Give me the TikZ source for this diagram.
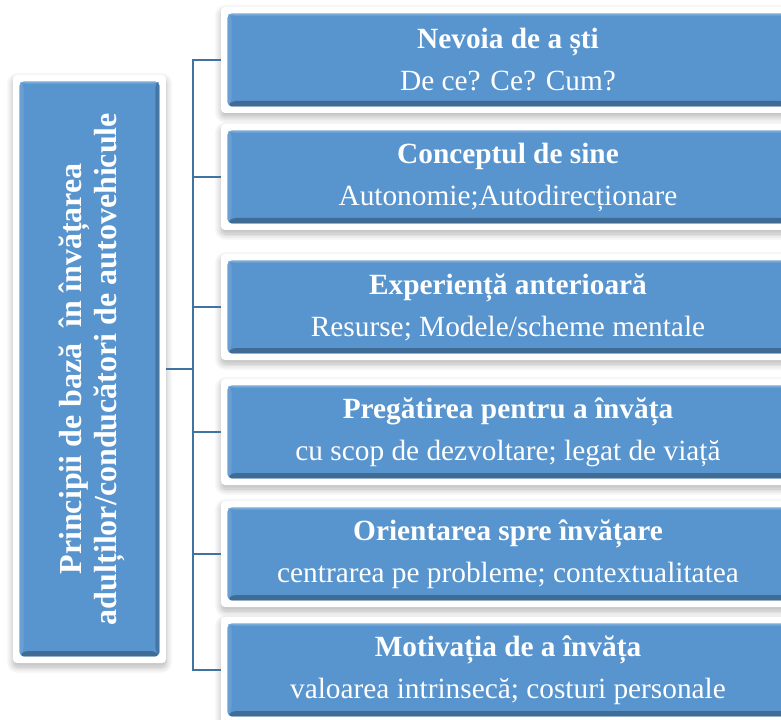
\documentclass[tikz,border=0pt]{standalone}
\usepackage{fontspec}
\setmainfont{Liberation Serif}
\usetikzlibrary{shadows.blur}

\definecolor{albastru}{RGB}{88,148,205}
\definecolor{linie}{RGB}{65,114,160}

\tikzset{
  cadru/.style={rectangle, rounded corners=3pt, fill=white, inner sep=0pt,
    blur shadow={shadow xshift=0pt, shadow yshift=-3pt, shadow blur steps=10,
      shadow blur radius=5pt, shadow opacity=30},
    path picture={
      \coordinate (ppsw) at ([shift={(5pt,5pt)}]path picture bounding box.south west);
      \coordinate (ppne) at ([shift={(-5pt,-5pt)}]path picture bounding box.north east);
      \coordinate (ppnw) at (ppsw |- ppne);
      \coordinate (ppse) at (ppsw -| ppne);
      \fill[albastru] (ppsw) rectangle (ppne);
      \fill[albastru!80!white] (ppnw) -- (ppne) -- ([shift={(-3pt,-1.5pt)}]ppne) -- ([shift={(3pt,-1.5pt)}]ppnw) -- cycle; %sus
      \fill[albastru!90!white] (ppsw) -- (ppnw) -- ([shift={(3pt,-1.5pt)}]ppnw) -- ([shift={(3pt,4pt)}]ppsw) -- cycle; %stanga
      \fill[albastru!72!black] (ppsw) -- (ppse) -- ([shift={(-3pt,4pt)}]ppse) -- ([shift={(3pt,4pt)}]ppsw) -- cycle; %jos
      \fill[albastru!80!black] (ppse) -- (ppne) -- ([shift={(-3pt,-1.5pt)}]ppne) -- ([shift={(-3pt,4pt)}]ppse) -- cycle; %dreapta
    }},
  principiu/.style={cadru, minimum width=430.5pt, minimum height=79.5pt,
    text=white, align=center, font=\fontsize{22pt}{31.5pt}\selectfont},
  legatura/.style={draw=linie, line width=1.6pt},
}

\begin{document}
\begin{tikzpicture}[x=0.75pt, y=-0.75pt]

  \useasboundingbox (0,0) rectangle (781,720);
  \clip (0,0) rectangle (781,720);

  \node[cadru, minimum width=114.75pt, minimum height=441pt] (radacina) at (89.5,369) {};
  \node[rotate=90, text=white, align=center,
    font=\bfseries\fontsize{24pt}{26.25pt}\selectfont] (titlu) at ([xshift=1.5pt]radacina.center)
    {Principii de bază\ \ în învățarea\\adulților/conducători de autovehicule};

  \node[principiu] (p1) at (508,60) {\textbf{Nevoia de a ști}\\De ce? Ce? Cum?};
  \node[principiu] (p2) at (508,177) {\textbf{Conceptul de sine}\\Autonomie;Autodirecționare};
  \node[principiu] (p3) at (508,307) {\textbf{Experiență anterioară}\\Resurse; Modele/scheme mentale};
  \node[principiu] (p4) at (508,432) {\textbf{Pregătirea pentru a învăța}\\cu scop de dezvoltare; legat de viață};
  \node[principiu] (p5) at (508,554) {\textbf{Orientarea spre învățare}\\centrarea pe probleme; contextualitatea};
  \node[principiu] (p6) at (508,670) {\textbf{Motivația de a învăța}\\valoarea intrinsecă; costuri personale};

  \coordinate (trunchi) at (193,369); %linia verticala
  \draw[legatura] (p1.west) -| (trunchi) |- (p6.west);
  \draw[legatura] (p2.west) -- (p2.west -| trunchi);
  \draw[legatura] (p3.west) -- (p3.west -| trunchi);
  \draw[legatura] (p4.west) -- (p4.west -| trunchi);
  \draw[legatura] (p5.west) -- (p5.west -| trunchi);
  \draw[legatura] (radacina.east) -- (trunchi);

\end{tikzpicture}
\end{document}
